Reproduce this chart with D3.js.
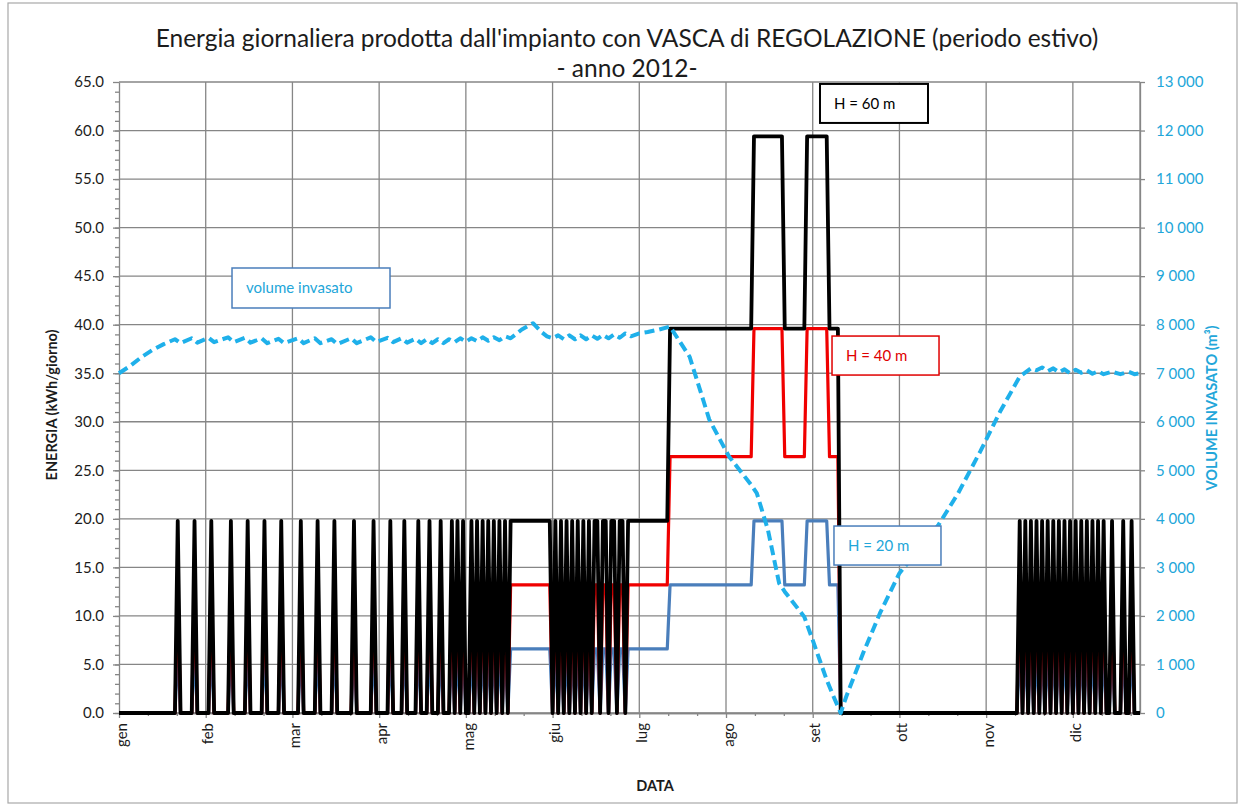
<!DOCTYPE html>
<html><head><meta charset="utf-8">
<script src="https://cdn.jsdelivr.net/npm/d3@7"></script>
<style>
body{margin:0;background:#fff}
svg{display:block}
text{font-family:Lato,'Open Sans',sans-serif}
</style>
</head><body>
<svg id="chart" width="1245" height="810"></svg>
<script>
// ---------------- DATA ----------------
const titleLines = ["Energia giornaliera prodotta dall'impianto con VASCA di REGOLAZIONE (periodo estivo)", "- anno 2012-"];
const monthLabels = ["gen","feb","mar","apr","mag","giu","lug","ago","set","ott","nov","dic"];
const monthTickDays = [0,31,62,93,124,155,186,217,248,279,310,341];
const energyTicks = [0,5,10,15,20,25,30,35,40,45,50,55,60,65];
const volumeTicks = [0,1000,2000,3000,4000,5000,6000,7000,8000,9000,10000,11000,12000,13000];

// operating phases (day of year, 0 = 1 gen)
const phaseStart = [0, 140, 197, 227, 238, 246, 254, 258];
const phaseMode  = ["spike","cont","cont","cont","cont","cont","cont","spike"];
const levelH60   = [19.8, 19.8, 39.6, 59.4, 39.6, 59.4, 39.6, 19.8];
const levelH40   = [13.2, 13.2, 26.4, 39.6, 26.4, 39.6, 26.4, 13.2];
const levelH20   = [6.6, 6.6, 13.2, 19.8, 13.2, 19.8, 13.2, 6.6];
// producing days during intermittent phases
const spikeDays = [21,27,33,40,46,52,58,65,71,77,84,91,97,102,107,111,115,119,121,123,126,128,130,132,134,136,138,
                   322,324,326,328,330,332,334,336,338,340,342,344,346,348,350,352,355,359,362];
// stop days during continuous phases
const stopDays = [155,157,159,161,163,165,167,169,172,175,178,181];

// stored volume (m3)
const volDays = [0,4,8,12,16,20,22,26,28,32,34,39,41,45,47,51,53,57,59,64,66,70,72,76,78,83,85,90,92,96,98,101,103,106,108,110,112,114,116,118,120,122,124,126,128,130,132,134,136,138,140,144,148,151,153,155,157,159,161,163,165,167,169,171,173,175,177,179,181,183,186,189,193,197,204,211,218,226,228,232,236,238,245,248,253,255,258,260,266,272,279,286,293,300,308,315,322,326,328,330,332,334,336,338,340,342,344,346,348,350,352,355,358,361,363,365];
const volValues = [7000,7150,7330,7480,7600,7700,7620,7720,7630,7730,7640,7740,7640,7730,7630,7720,7620,7710,7620,7720,7620,7720,7620,7700,7600,7720,7620,7740,7640,7730,7640,7720,7630,7710,7620,7700,7620,7700,7620,7700,7640,7720,7650,7720,7660,7740,7670,7740,7680,7760,7720,7900,8030,7850,7760,7720,7780,7700,7780,7700,7780,7700,7780,7710,7790,7720,7800,7730,7820,7760,7820,7850,7900,7960,7340,6050,5290,4700,4530,3770,2670,2500,1980,1500,680,400,0,340,1230,2050,2880,3380,3880,4530,5400,6210,6930,7100,7060,7120,7040,7100,7020,7080,7000,7070,7010,7060,6990,7040,6980,7030,6980,7030,6980,7000];

const annotations = [
  {text:"H = 60 m", day:250.6, val:64.8},
  {text:"H = 40 m", day:254.9, val:38.83},
  {text:"H = 20 m", day:255.6, val:19.26},
  {text:"volume invasato", day:40.4, val:45.84}
];

// ---------------- BUILD DAILY SERIES ----------------
const nDays = 366;
function series(levels){
  const out = [];
  for(let d=0; d<nDays; d++){
    let p = 0;
    for(let i=0;i<phaseStart.length;i++) if(phaseStart[i]<=d) p=i;
    let v;
    if(phaseMode[p]==="spike") v = spikeDays.includes(d) ? levels[p] : 0;
    else v = stopDays.includes(d) ? 0 : levels[p];
    out.push({d, v});
  }
  return out;
}
const sH60 = series(levelH60), sH40 = series(levelH40), sH20 = series(levelH20);
const vol = volDays.map((d,i)=>({d, v:volValues[i]}));

// ---------------- LAYOUT ----------------
const svg = d3.select("#chart");
const L=119, R=1140, T=82, B=713;
const x = d3.scaleLinear().domain([0,365]).range([L,R]);
const y = d3.scaleLinear().domain([0,65]).range([B,T]);
const yV = d3.scaleLinear().domain([0,13000]).range([B,T]);
const gridCol = "#868686", txtCol = "#1c1c1c", cyan = "#1fb0ea", cyanTxt="#22a6d9";

svg.append("rect").attr("x",8).attr("y",3).attr("width",1229).attr("height",800)
  .attr("fill","#fff").attr("stroke","#a8a8a8").attr("stroke-width",1.2);

// title
svg.append("text").attr("x",627).attr("y",47).attr("text-anchor","middle")
  .attr("font-size",24.5).attr("fill",txtCol).text(titleLines[0]);
svg.append("text").attr("x",627).attr("y",77).attr("text-anchor","middle")
  .attr("font-size",24.5).attr("fill",txtCol).text(titleLines[1]);

// grid
const grid = svg.append("g").attr("stroke",gridCol).attr("stroke-width",1.3);
grid.selectAll("line.h").data(energyTicks).join("line")
  .attr("x1",L).attr("x2",R).attr("y1",d=>y(d)).attr("y2",d=>y(d));
grid.selectAll("line.v").data(monthTickDays.slice(1)).join("line").attr("class","v")
  .attr("x1",d=>x(d)).attr("x2",d=>x(d)).attr("y1",T).attr("y2",B);
grid.append("line").attr("x1",R).attr("x2",R).attr("y1",T).attr("y2",B);

function styleAxis(g){
  g.selectAll("path,line").attr("stroke",gridCol).attr("stroke-width",1.3);
  g.selectAll("text").attr("fill",txtCol).attr("font-size",15);
}
// left axis
svg.append("g").attr("transform",`translate(${L},0)`)
  .call(d3.axisLeft(y).tickValues(d3.range(0,65,1)).tickSize(4).tickSizeOuter(0).tickFormat(""))
  .call(styleAxis);
svg.append("g").attr("transform",`translate(${L},0)`)
  .call(d3.axisLeft(y).tickValues(energyTicks).tickSize(6).tickSizeOuter(0).tickPadding(9).tickFormat(d3.format(".1f")))
  .call(styleAxis).call(g=>g.select(".domain").remove());

// right axis
const itFmt = d3.formatLocale({decimal:",", thousands:" ", grouping:[3], currency:["",""]}).format(",");
svg.append("g").attr("transform",`translate(${R},0)`)
  .call(d3.axisRight(yV).tickValues(volumeTicks).tickSize(5).tickSizeOuter(0).tickPadding(11).tickFormat(itFmt))
  .call(styleAxis).call(g=>g.selectAll("text").attr("fill",cyanTxt));

// x axis
const minorX = d3.range(0,366,31/3).filter((d,i)=>i%3!==0);
svg.append("g").attr("transform",`translate(0,${B})`)
  .call(d3.axisBottom(x).tickValues(minorX).tickSize(3).tickSizeOuter(0).tickFormat(""))
  .call(styleAxis);
svg.append("g").attr("transform",`translate(0,${B})`)
  .call(d3.axisBottom(x).tickValues(monthTickDays).tickSize(5).tickSizeOuter(0).tickFormat((d,i)=>monthLabels[i]))
  .call(styleAxis)
  .call(g=>g.selectAll("text").attr("transform","rotate(-90)").attr("text-anchor","end")
     .attr("x",-10).attr("y",2).attr("dy","0.35em"));

// axis titles
svg.append("text").attr("transform","translate(57,405) rotate(-90)").attr("text-anchor","middle")
  .attr("font-size",14.5).attr("font-weight","bold").attr("fill",txtCol).text("ENERGIA (kWh/giorno)");
svg.append("text").attr("transform","translate(1217,408) rotate(-90)").attr("text-anchor","middle")
  .attr("font-size",14.5).attr("font-weight","bold").attr("fill",cyanTxt).text("VOLUME INVASATO (m³)");
svg.append("text").attr("x",655).attr("y",791).attr("text-anchor","middle")
  .attr("font-size",14.5).attr("font-weight","bold").attr("fill",txtCol).text("DATA");

// lines
const line = d3.line().x(p=>x(p.d)).y(p=>y(p.v));
const lineV = d3.line().x(p=>x(p.d)).y(p=>yV(p.v));
const plot = svg.append("g").attr("fill","none").attr("stroke-linejoin","round");
plot.append("path").datum(sH20).attr("d",line).attr("stroke","#4a7ebb").attr("stroke-width",3.2);
plot.append("path").datum(sH40).attr("d",line).attr("stroke","#f00000").attr("stroke-width",3.2);
plot.append("path").datum(sH60).attr("d",line).attr("stroke","#000").attr("stroke-width",3.8);
plot.append("path").datum(vol).attr("d",lineV).attr("stroke",cyan).attr("stroke-width",4)
  .attr("stroke-dasharray","10,5");

// annotation boxes
const boxStyles = [
  {w:108,h:39,stroke:"#000",sw:2,fill:"#000"},
  {w:107,h:39,stroke:"#e00000",sw:1.5,fill:"#e00000"},
  {w:107,h:39,stroke:"#4a7ebb",sw:1.5,fill:cyanTxt},
  {w:158,h:40,stroke:"#4a7ebb",sw:1.5,fill:cyanTxt}
];
annotations.forEach((a,i)=>{
  const s = boxStyles[i];
  const bx = x(a.day), by = y(a.val);
  svg.append("rect").attr("x",bx).attr("y",by).attr("width",s.w).attr("height",s.h)
    .attr("fill","#fff").attr("stroke",s.stroke).attr("stroke-width",s.sw);
  svg.append("text").attr("x",bx+14).attr("y",by+s.h/2).attr("dy","0.35em")
    .attr("font-size",15).attr("fill",s.fill).text(a.text);
});
</script>
</body></html>
